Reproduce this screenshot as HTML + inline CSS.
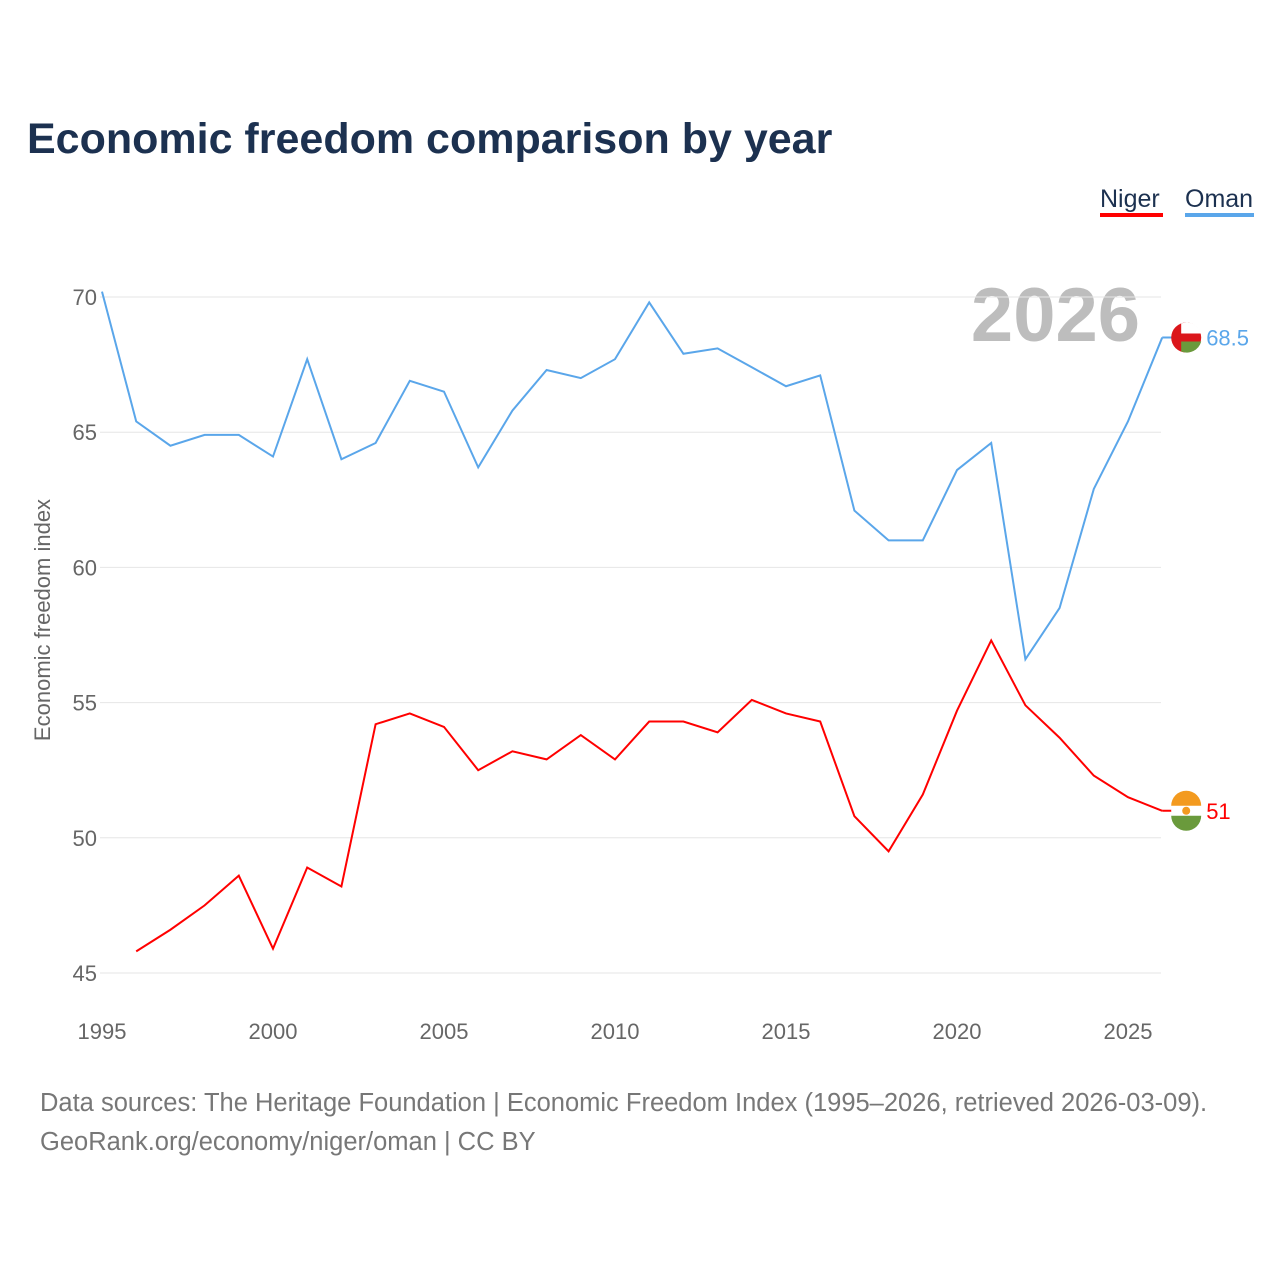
<!DOCTYPE html>
<html><head><meta charset="utf-8">
<style>
body{margin:0;background:#fff;font-family:"Liberation Sans",sans-serif;}
svg text{font-family:"Liberation Sans",sans-serif;}
</style></head>
<body>
<svg id="chart" width="1280" height="1280" xmlns="http://www.w3.org/2000/svg">
<text x="27" y="153" font-size="43" font-weight="bold" fill="#1c3150">Economic freedom comparison by year</text>
<g><text x="1100" y="207" font-size="25" fill="#1c3150">Niger</text><rect x="1100" y="213" width="63" height="4" fill="#ff0000"/></g>
<g><text x="1185" y="207" font-size="25" fill="#1c3150">Oman</text><rect x="1185" y="213" width="69" height="4" fill="#5aa6ea"/></g>
<text x="1140" y="341" font-size="76" font-weight="bold" fill="#bdbdbd" text-anchor="end">2026</text>
<text transform="translate(50,620) rotate(-90)" font-size="22" fill="#666" text-anchor="middle">Economic freedom index</text>
<g id="grid"></g><g id="xt"></g><g id="series"></g>
<text x="40" y="1111" font-size="25.5" fill="#777">Data sources: The Heritage Foundation | Economic Freedom Index (1995–2026, retrieved 2026-03-09).</text>
<text x="40" y="1150" font-size="25.5" fill="#777">GeoRank.org/economy/niger/oman | CC BY</text>
</svg>
<script>
const yTicks=[45,50,55,60,65,70];
const xTicks=[1995,2000,2005,2010,2015,2020,2025];
const omanYears=[1995,1996,1997,1998,1999,2000,2001,2002,2003,2004,2005,2006,2007,2008,2009,2010,2011,2012,2013,2014,2015,2016,2017,2018,2019,2020,2021,2022,2023,2024,2025,2026];
const omanVals=[70.2,65.4,64.5,64.9,64.9,64.1,67.7,64.0,64.6,66.9,66.5,63.7,65.8,67.3,67.0,67.7,69.8,67.9,68.1,67.4,66.7,67.1,62.1,61.0,61.0,63.6,64.6,56.6,58.5,62.9,65.4,68.5];
const nigerYears=[1996,1997,1998,1999,2000,2001,2002,2003,2004,2005,2006,2007,2008,2009,2010,2011,2012,2013,2014,2015,2016,2017,2018,2019,2020,2021,2022,2023,2024,2025,2026];
const nigerVals=[45.8,46.6,47.5,48.6,45.9,48.9,48.2,54.2,54.6,54.1,52.5,53.2,52.9,53.8,52.9,54.3,54.3,53.9,55.1,54.6,54.3,50.8,49.5,51.6,54.7,57.3,54.9,53.7,52.3,51.5,51.0];
const NS="http://www.w3.org/2000/svg";
const X=y=>102+(y-1995)*34.2;
const Y=v=>297+(70-v)*27.04;
function mk(t,a,p){const e=document.createElementNS(NS,t);for(const k in a)e.setAttribute(k,a[k]);p.appendChild(e);return e;}
const grid=document.getElementById('grid');
yTicks.forEach(v=>{
 const l=mk('line',{x1:100,x2:1161,y1:Y(v),y2:Y(v),stroke:'#e6e6e6','stroke-width':1},grid);
 
 
 const t=mk('text',{x:97,y:Y(v)+8,'font-size':22,fill:'#666','text-anchor':'end'},grid);t.textContent=v;
 
 
});
const xt=document.getElementById('xt');
xTicks.forEach(y=>{
 const t=mk('text',{x:X(y),y:1039,'font-size':22,fill:'#666','text-anchor':'middle'},xt);t.textContent=y;
 
 
});
const S=document.getElementById('series');
function series(name,yrs,vals,col,label,flag){
 const p=mk('polyline',{points:yrs.map((y,i)=>X(y)+','+Y(vals[i])).join(' '),fill:'none',stroke:col,'stroke-width':2},S);
 
 
 const lx=X(yrs[yrs.length-1]),ly=Y(vals[vals.length-1]);
 const g=mk('g',{},S);
 
 
 const cx=lx+24;
 mk('line',{x1:lx,x2:cx,y1:ly,y2:ly,stroke:col,'stroke-width':2},g);
 if(flag==='niger'){
  mk('circle',{cx:cx,cy:ly,r:15,fill:'#fff'},g);
  mk('path',{d:`M${cx-15},${ly-5} A15,15 0 0 1 ${cx+15},${ly-5} Z`,fill:'#f39a1f'},g);
  mk('path',{d:`M${cx-15},${ly+5} A15,15 0 0 0 ${cx+15},${ly+5} Z`,fill:'#6a9a3c'},g);
  mk('circle',{cx:cx,cy:ly,r:4,fill:'#f39a1f'},g);
 }else{
  mk('circle',{cx:cx,cy:ly,r:15,fill:'#db161b'},g);
  mk('path',{d:`M${cx-5},${ly-14} A15,15 0 0 1 ${cx+15},${ly-4} L${cx-5},${ly-4} Z`,fill:'#fff'},g);
  mk('path',{d:`M${cx-5},${ly+4} L${cx+15},${ly+4} A15,15 0 0 1 ${cx-5},${ly+14} Z`,fill:'#6a9a3c'},g);
 }
 const t=mk('text',{x:cx+20,y:ly+8,'font-size':22,fill:col},S);t.textContent=label;
 
 
}
series('oman',omanYears,omanVals,'#5aa6ea',String(omanVals[omanVals.length-1]),'oman');
series('niger',nigerYears,nigerVals,'#ff0000',String(nigerVals[nigerVals.length-1]),'niger');
</script>
</body></html>
